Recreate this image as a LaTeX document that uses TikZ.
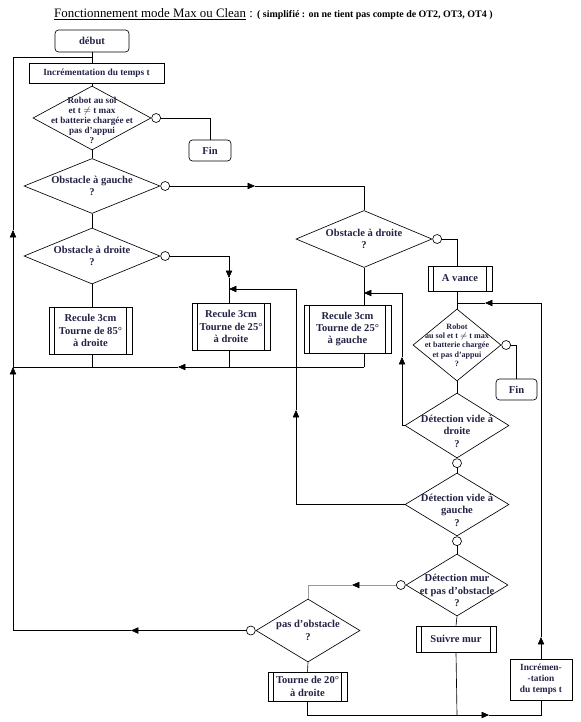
\documentclass[tikz,border=0pt]{standalone}
\usepackage{fontspec}
\setmainfont{Liberation Serif}
\usetikzlibrary{shapes.geometric, arrows.meta}
\definecolor{ink}{RGB}{35,35,70}

\begin{document}
\begin{tikzpicture}
  [x=0.03cm, y=-0.03cm, line width=0.55pt, >={Triangle[length=2.2mm,width=1.9mm]},
   every node/.style={font=\fontsize{9}{10.5}\selectfont\bfseries, text=ink, align=center},
   box/.style 2 args={draw, rectangle, minimum width=#1*0.03cm, minimum height=#2*0.03cm, inner sep=0pt},
   term/.style 2 args={box={#1}{#2}, rounded corners=3pt},
   proc/.style 2 args={box={#1}{#2}, path picture={
       \draw ([xshift=0.165cm]path picture bounding box.north west) -- ([xshift=0.165cm]path picture bounding box.south west);
       \draw ([xshift=-0.165cm]path picture bounding box.north east) -- ([xshift=-0.165cm]path picture bounding box.south east);}},
   decision/.style 2 args={draw, diamond, minimum width=#1*0.03cm, minimum height=#2*0.03cm, inner sep=0pt},
   knob/.style={draw, circle, fill=white, minimum size=0.27cm, inner sep=0pt},
   smalltxt/.style={font=\fontsize{7.8}{8.6}\selectfont\bfseries},
   tinytxt/.style={font=\fontsize{6.9}{7.9}\selectfont\bfseries},
   lowtxt/.style={yshift=-0.17cm}]
  \useasboundingbox (0,0) rectangle (580,722);

  \node[font=\fontsize{11}{13}\selectfont, text=black, anchor=base west] (title) at (50,17)
    {\underline{Fonctionnement mode Max ou Clean} : {\fontsize{8.5}{10}\selectfont\bfseries ( simplifié : on ne tient pas compte de OT2, OT3, OT4 )}};

  \node[term={74}{22}] (debut) at (92,41) {début};
  \node[box={135}{20}, font=\fontsize{8}{9}\selectfont\bfseries] (incr) at (96.5,73) {Incrémentation du temps t};
  \node[decision={118}{64}, label={[smalltxt, yshift=-0.08cm]center:Robot au sol\\et t $\neq$ t max\\et batterie chargée et\\pas d’appui\\?}] (d1) at (92,118) {};
  \node[knob, anchor=west] (c1) at (d1.east) {};
  \node[term={42}{21}] (fin1) at (210,150.5) {Fin};
  \node[decision={136}{55}, label={center:Obstacle à gauche\\?}] (d2) at (92,186) {};
  \node[knob, anchor=west] (c2) at (d2.east) {};
  \node[decision={136}{57}, label={center:Obstacle à droite\\?}] (d3) at (364,239) {};
  \node[knob, anchor=west] (c3) at (d3.east) {};
  \node[decision={136}{56}, label={center:Obstacle à droite\\?}] (d4) at (92,256) {};
  \node[knob, anchor=west] (c4) at (d4.east) {};
  \node[proc={64}{25}] (avance) at (460,278.5) {A vance};
  \node[proc={83}{47}] (r85) at (90.5,330.5) {Recule 3cm\\Tourne de 85°\\à droite};
  \node[proc={78}{47}] (r25d) at (231,326.5) {Recule 3cm\\Tourne de 25°\\à droite};
  \node[proc={87}{48}] (r25g) at (347.5,329) {Recule 3cm\\Tourne de 25°\\à gauche};
  \node[decision={88}{72}, label={[tinytxt]center:Robot\\au sol et t $\neq$ t max\\et batterie chargée\\et pas d’appui\\?}] (d5) at (457,345) {};
  \node[knob, anchor=west] (c5) at (d5.east) {};
  \node[term={41}{21}] (fin2) at (516.5,389.5) {Fin};
  \node[decision={104}{65}, label={[lowtxt]center:Détection vide à\\droite\\?}] (d6) at (457,425.5) {};
  \node[knob, anchor=north] (c6) at (d6.south) {};
  \node[decision={104}{63}, label={[lowtxt]center:Détection vide à\\gauche\\?}] (d7) at (457,504.5) {};
  \node[knob, anchor=north] (c7) at (d7.south) {};
  \node[decision={102}{62}, label={[lowtxt]center:Détection mur\\et pas d’obstacle\\?}] (d8) at (457,585) {};
  \node[knob, anchor=east] (c8) at (d8.west) {};
  \node[decision={104}{63}, label={center:pas d’obstacle\\?}] (d9) at (308,630.5) {};
  \node[knob, anchor=east] (c9) at (d9.west) {};
  \node[proc={80}{26}] (suivre) at (456,639) {Suivre mur};
  \node[proc={79}{29}] (t20) at (307.5,686.5) {Tourne de 20°\\à droite};
  \node[box={62}{41}, font=\fontsize{8}{9.5}\selectfont\bfseries] (incr2) at (541,679.5) {Incrémen-\\-tation\\du temps t};

  \coordinate (jl) at (13,367);
  \coordinate (al) at (13,230);
  \coordinate (tl) at (13,57);
  \coordinate (a2) at (255,186);
  \coordinate (a4) at (229,278);
  \coordinate (m2) at (229,289);
  \coordinate (m3) at (364,293);
  \coordinate (jr) at (364,367);
  \coordinate (a3) at (178,367);
  \coordinate (a6) at (402,357);
  \coordinate (a7) at (296,410);
  \coordinate (a8) at (352,585);
  \coordinate (a9) at (541,637);
  \coordinate (a10) at (485,303);
  \coordinate (a11) at (131,630.5);
  \coordinate (jb) at (457,715);
  \coordinate (a12) at (489,715);

  \draw (debut.south) -- (debut.south |- incr.north);
  \draw[->] (jl) -- (al);
  \draw (al) -- (tl) -- (tl -| debut.south);
  \draw (incr.south -| d1.north) -- (d1.north);
  \draw (c1.east) -| (fin1.north);
  \draw (d1.south) -- (d2.north);
  \draw (d2.south) -- (d4.north);
  \draw[->] (c2.east) -- (a2);
  \draw (a2) -| (d3.north);
  \draw[->] (c4.east) -| (a4);
  \draw (a4) -- (a4 |- r25d.north);
  \draw (d4.south) -- (d4.south |- r85.north);
  \draw (c3.east) -| (avance.north -| d5.north);
  \draw (avance.south -| d5.north) -- (d5.north);
  \draw (d3.south) -- (d3.south |- r25g.north);
  \draw (r25g.south -| jr) -- (jr);
  \draw[->] (jr) -- (a3);
  \draw (a3) -- (jl);
  \draw (r85.south -| d4.south) -- (d4.south |- jl);
  \draw (r25d.south -| m2) -- (m2 |- jl);
  \draw (c5.east) -| (fin2.north);
  \draw (d5.south) -- (d6.north);
  \draw (c6.south) -- (d7.north);
  \draw (c7.south) -- (d8.north);
  \draw[->] (d6.west) -| (a6);
  \draw[->] (a6) |- (m3);
  \draw[->] (d7.west) -| (a7);
  \draw[->] (a7) |- (m2);
  \draw (d8.south) -- (suivre.north);
  \draw[->] (incr2.north) -- (a9);
  \draw[->] (a9) |- (a10);
  \draw (a10) -- (a10 -| d5.north);
  \draw[gray!80, -{Triangle[length=2.2mm,width=1.9mm,black]}] (c8.west) -- (a8);
  \draw[gray!80] (a8) -| (d9.north);
  \draw[->] (c9.west) -- (a11);
  \draw[->] (a11) -| (jl);
  \draw (d9.south) -- (t20.north);
  \draw (t20.south) |- (jb);
  \draw (suivre.south) -- (jb);
  \draw[->] (jb) -- (a12);
  \draw (a12) -| (incr2.south);
\end{tikzpicture}
\end{document}
